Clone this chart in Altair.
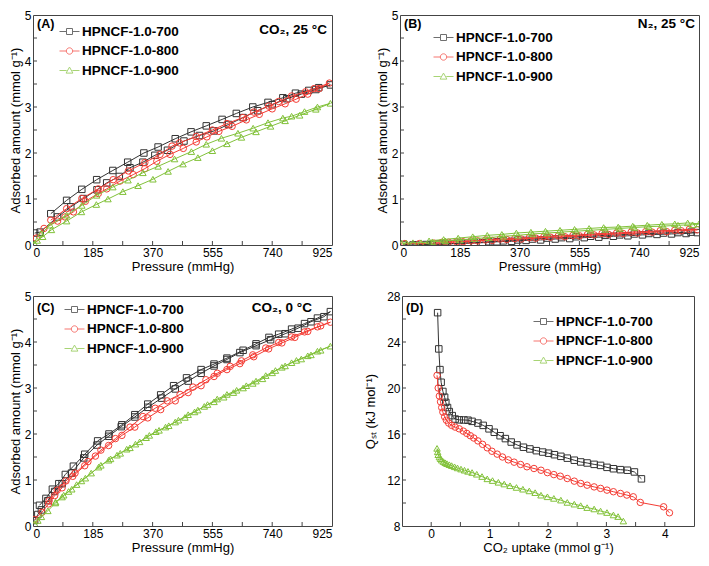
import altair as alt
import pandas as pd

SERIES = ["HPNCF-1.0-700", "HPNCF-1.0-800", "HPNCF-1.0-900"]
COLORS = ["#333333", "#f43c34", "#82c23a"]
SHAPES = ["square", "circle", "triangle-up"]
LEGEND_PATHS = [
    "M-1,0H-0.3M0.3,0H1M-0.3,-0.3H0.3V0.3H-0.3Z",
    "M-1,0H-0.32M0.32,0H1M0.32,0A0.32,0.32 0 1,1 -0.32,0A0.32,0.32 0 1,1 0.32,0Z",
    "M-1,0H-0.28M0.28,0H1M0,-0.34L0.34,0.26H-0.34Z",
]
FRAME = "#444444"
FONT = "Liberation Sans"

# ---------------- Panel A: CO2, 25 C (adsorption then desorption) ----------------
A700_P = [5, 22, 76, 117, 156, 198, 228, 267, 300, 340, 377, 416, 467, 515, 560, 605, 650, 695, 740, 785, 830, 875, 920,
          884, 853, 812, 773, 727, 680, 629, 585, 536, 489, 440, 387, 343, 293, 247, 197, 151, 104, 55]
A700_V = [0.26, 0.28, 0.61, 0.83, 1.01, 1.20, 1.35, 1.49, 1.68, 1.80, 1.95, 2.06, 2.26, 2.38, 2.48, 2.62, 2.77, 2.92, 3.05, 3.18, 3.28, 3.38, 3.48,
          3.42, 3.36, 3.30, 3.20, 3.10, 3.00, 2.86, 2.73, 2.59, 2.46, 2.31, 2.13, 2.00, 1.80, 1.62, 1.42, 1.21, 0.97, 0.68]
A800_P = [10, 34, 76, 99, 125, 162, 202, 228, 269, 310, 346, 383, 424, 465, 505, 538, 575, 616, 660, 700, 740, 780, 814, 850, 885, 917,
          870, 843, 800, 760, 729, 683, 649, 600, 555, 505, 453, 430, 393, 346, 295, 248, 202, 151, 104, 55]
A800_V = [0.15, 0.36, 0.52, 0.61, 0.72, 0.95, 1.12, 1.22, 1.39, 1.53, 1.66, 1.82, 1.97, 2.10, 2.24, 2.35, 2.47, 2.58, 2.72, 2.84, 2.96, 3.07, 3.17, 3.28, 3.40, 3.52,
          3.40, 3.33, 3.24, 3.12, 3.02, 2.89, 2.77, 2.64, 2.50, 2.36, 2.22, 2.15, 1.97, 1.79, 1.61, 1.42, 1.22, 1.01, 0.79, 0.54]
A900_P = [5, 13, 30, 57, 104, 150, 196, 232, 278, 325, 371, 418, 464, 510, 555, 600, 645, 690, 735, 780, 825, 875, 920,
          880, 840, 800, 773, 727, 681, 634, 583, 536, 490, 438, 387, 340, 294, 247, 197, 151, 104, 53, 25]
A900_V = [0.03, 0.10, 0.18, 0.33, 0.52, 0.72, 0.88, 1.00, 1.16, 1.29, 1.43, 1.60, 1.76, 1.90, 2.05, 2.20, 2.34, 2.46, 2.58, 2.70, 2.82, 2.95, 3.08,
          3.00, 2.90, 2.80, 2.76, 2.66, 2.54, 2.43, 2.32, 2.19, 2.03, 1.87, 1.71, 1.57, 1.41, 1.26, 1.08, 0.86, 0.65, 0.43, 0.25]

# ---------------- Panel B: N2, 25 C ----------------
B700_P = [10, 40, 80, 120, 165, 210, 255, 300, 345, 390, 435, 480, 525, 570, 615, 660, 705, 750, 795, 840, 885, 920,
          900, 860, 815, 770, 725, 680, 635, 590, 545, 500, 455, 410, 365, 320, 275, 230, 185, 140, 95, 50]
B700_V = [0.01, 0.00, 0.01, 0.02, 0.03, 0.04, 0.05, 0.07, 0.08, 0.10, 0.11, 0.13, 0.14, 0.16, 0.17, 0.19, 0.20, 0.22, 0.23, 0.24, 0.25, 0.27,
          0.28, 0.27, 0.26, 0.25, 0.24, 0.22, 0.21, 0.19, 0.18, 0.16, 0.15, 0.13, 0.11, 0.09, 0.07, 0.05, 0.04, 0.02, 0.01, 0.00]
B800_P = [15, 60, 105, 150, 195, 240, 285, 330, 375, 420, 465, 510, 555, 600, 645, 690, 735, 780, 825, 870, 920,
          895, 850, 805, 760, 715, 670, 625, 580, 535, 490, 445, 400, 355, 310, 265, 220, 175, 130]
B800_V = [0.03, 0.03, 0.04, 0.06, 0.07, 0.09, 0.10, 0.12, 0.13, 0.15, 0.17, 0.18, 0.20, 0.22, 0.23, 0.25, 0.26, 0.28, 0.29, 0.31, 0.33,
          0.34, 0.32, 0.31, 0.29, 0.28, 0.26, 0.25, 0.23, 0.21, 0.20, 0.18, 0.16, 0.14, 0.13, 0.11, 0.09, 0.07, 0.06]
B900_P = [5, 20, 40, 65, 100, 140, 185, 230, 275, 320, 365, 410, 455, 500, 545, 590, 635, 680, 725, 770, 815, 860, 905, 925,
          890, 850, 810, 765, 720, 675, 630, 585, 540, 495, 450, 405, 360, 315, 270, 225, 180, 135, 90]
B900_V = [0.04, 0.04, 0.05, 0.05, 0.07, 0.09, 0.11, 0.14, 0.16, 0.19, 0.21, 0.24, 0.26, 0.28, 0.30, 0.32, 0.34, 0.36, 0.38, 0.40, 0.41, 0.43, 0.44, 0.46,
          0.48, 0.46, 0.45, 0.43, 0.41, 0.39, 0.38, 0.36, 0.34, 0.32, 0.30, 0.28, 0.26, 0.23, 0.21, 0.18, 0.15, 0.12, 0.09]

# ---------------- Panel C: CO2, 0 C ----------------
C700_P = [5, 15, 26, 46, 67, 90, 119, 157, 198, 234, 273, 315, 355, 398, 440, 480, 520, 560, 600, 640, 690, 735, 780, 820, 860, 900, 920,
          880, 840, 800, 760, 730, 690, 650, 600, 560, 520, 475, 435, 395, 355, 315, 275, 235, 200, 160, 125, 100, 80, 60, 40, 20]
C700_V = [0.12, 0.25, 0.35, 0.55, 0.75, 0.92, 1.15, 1.48, 1.76, 1.95, 2.16, 2.37, 2.58, 2.78, 2.98, 3.15, 3.32, 3.48, 3.62, 3.77, 3.92, 4.05, 4.18, 4.30, 4.44, 4.55, 4.66,
          4.52, 4.40, 4.28, 4.17, 4.10, 3.96, 3.82, 3.65, 3.52, 3.40, 3.22, 3.05, 2.85, 2.65, 2.42, 2.20, 2.00, 1.85, 1.56, 1.30, 1.12, 0.92, 0.80, 0.60, 0.45]
C800_P = [5, 28, 48, 67, 90, 123, 160, 193, 234, 275, 315, 355, 395, 440, 480, 520, 560, 600, 640, 683, 729, 770, 810, 850, 890, 920,
          880, 840, 800, 760, 720, 680, 645, 610, 570, 535, 495, 455, 415, 378, 340, 300, 255, 210, 170, 130, 102, 75, 50]
C800_V = [0.14, 0.30, 0.48, 0.66, 0.83, 1.08, 1.31, 1.52, 1.75, 1.97, 2.15, 2.35, 2.53, 2.72, 2.90, 3.05, 3.25, 3.40, 3.53, 3.68, 3.85, 3.98, 4.10, 4.23, 4.35, 4.43,
          4.33, 4.22, 4.11, 3.99, 3.87, 3.72, 3.59, 3.47, 3.32, 3.18, 3.02, 2.86, 2.72, 2.56, 2.38, 2.15, 1.90, 1.65, 1.40, 1.15, 0.98, 0.78, 0.55]
C900_P = [5, 15, 26, 46, 69, 90, 110, 135, 162, 203, 234, 260, 290, 317, 350, 380, 410, 440, 470, 500, 530, 560, 590, 620, 650, 680, 710, 740, 770, 800, 830, 860, 890, 920,
          880, 850, 815, 780, 750, 720, 690, 660, 630, 600, 570, 540, 510, 480, 450, 420, 390, 360, 330, 300, 270, 240, 210, 180, 150, 120, 95, 70]
C900_V = [0.05, 0.12, 0.20, 0.33, 0.50, 0.63, 0.75, 0.90, 1.04, 1.28, 1.43, 1.54, 1.67, 1.78, 1.92, 2.05, 2.15, 2.26, 2.36, 2.48, 2.60, 2.70, 2.80, 2.90, 3.00, 3.10, 3.20, 3.33, 3.45, 3.55, 3.63, 3.72, 3.82, 3.91,
          3.80, 3.70, 3.60, 3.48, 3.38, 3.27, 3.15, 3.05, 2.95, 2.86, 2.76, 2.64, 2.52, 2.42, 2.30, 2.18, 2.08, 1.97, 1.83, 1.70, 1.58, 1.46, 1.32, 1.15, 0.98, 0.80, 0.67, 0.52]

# ---------------- Panel D: isosteric heat ----------------
D700_U = [0.11, 0.13, 0.15, 0.17, 0.20, 0.23, 0.25, 0.28, 0.31, 0.36, 0.41, 0.48, 0.56, 0.63, 0.70, 0.80, 0.89, 0.99, 1.08, 1.18, 1.27,
          1.37, 1.47, 1.58, 1.69, 1.80, 1.91, 2.01, 2.11, 2.22, 2.33, 2.45, 2.56, 2.67, 2.79, 2.90, 3.01, 3.12, 3.24, 3.36, 3.48, 3.60]
D700_Q = [26.55, 23.4, 21.6, 20.5, 19.7, 19.2, 18.75, 18.3, 17.95, 17.6, 17.3, 17.23, 17.22, 17.2, 17.1, 16.95, 16.75, 16.45, 16.15, 15.85, 15.6,
          15.3, 15.05, 14.85, 14.7, 14.55, 14.43, 14.33, 14.2, 14.06, 13.9, 13.72, 13.57, 13.48, 13.36, 13.27, 13.1, 12.98, 12.9, 12.85, 12.7, 12.1]
D800_U = [0.10, 0.12, 0.14, 0.16, 0.18, 0.20, 0.23, 0.26, 0.30, 0.35, 0.41, 0.48, 0.55, 0.61, 0.67, 0.73, 0.80, 0.88, 0.96, 1.04, 1.13, 1.22,
          1.32, 1.42, 1.53, 1.64, 1.76, 1.88, 1.99, 2.10, 2.21, 2.33, 2.45, 2.56, 2.67, 2.79, 2.90, 3.01, 3.12, 3.24, 3.35, 3.46, 3.58, 3.98, 4.08]
D800_Q = [21.1, 20.0, 19.3, 18.8, 18.3, 17.9, 17.5, 17.2, 16.95, 16.75, 16.6, 16.45, 16.25, 16.05, 15.85, 15.65, 15.4, 15.1, 14.8, 14.5, 14.25, 14.0,
          13.75, 13.55, 13.35, 13.15, 13.0, 12.85, 12.64, 12.47, 12.33, 12.13, 11.9, 11.7, 11.55, 11.4, 11.27, 11.12, 10.98, 10.83, 10.69, 10.54, 10.05, 9.67, 9.15]
D900_U = [0.10, 0.11, 0.12, 0.14, 0.16, 0.18, 0.21, 0.24, 0.27, 0.31, 0.35, 0.40, 0.45, 0.51, 0.57, 0.63, 0.70, 0.78, 0.87, 0.96, 1.05,
          1.15, 1.25, 1.35, 1.46, 1.57, 1.68, 1.78, 1.88, 1.99, 2.10, 2.22, 2.33, 2.45, 2.56, 2.67, 2.79, 2.90, 3.01, 3.12, 3.20, 3.29]
D900_Q = [14.75, 14.45, 14.2, 14.0, 13.85, 13.72, 13.6, 13.5, 13.42, 13.33, 13.25, 13.15, 13.05, 12.95, 12.85, 12.75, 12.65, 12.5, 12.3, 12.1, 11.95,
          11.8, 11.65, 11.5, 11.35, 11.2, 11.05, 10.9, 10.68, 10.54, 10.4, 10.25, 10.05, 9.9, 9.77, 9.6, 9.48, 9.3, 9.17, 8.96, 8.82, 8.43]

# ---------------- axis tick positions ----------------
P_LABELS = [0, 185, 370, 555, 740, 925]
P_TICKS = [92.5, 185, 277.5, 370, 462.5, 555, 647.5, 740, 832.5]
AMT_LABELS = [0, 1, 2, 3, 4, 5]
AMT_TICKS = [0.5, 1, 1.5, 2, 2.5, 3, 3.5, 4, 4.5]
U_LABELS = [0, 1, 2, 3, 4]
U_TICKS = [0, 0.5, 1, 1.5, 2, 2.5, 3, 3.5, 4]
Q_LABELS = [8, 12, 16, 20, 24, 28]
Q_TICKS = [10, 12, 14, 16, 18, 20, 22, 24, 26]

W, H = 299, 230


def panel(series, xdom, ydom, xlabels, xticks, ylabels, yticks, xtitle, ytitle,
          tag, cond, cond_x, cond_y, leg_x, leg_y, tag_y, w=W, h=H, ytitle_pad=2):
    X = alt.X("x:Q", scale=alt.Scale(domain=xdom, nice=False, zero=False),
              axis=alt.Axis(values=xlabels, title=xtitle))
    Y = alt.Y("y:Q", scale=alt.Scale(domain=ydom, nice=False, zero=False),
              axis=alt.Axis(values=ylabels, title=ytitle, titlePadding=ytitle_pad))
    layers = []
    for (xs, ys), color, shape in zip(series, COLORS, SHAPES):
        df = pd.DataFrame({"x": xs, "y": ys, "i": list(range(len(xs)))})
        base = alt.Chart(df)
        layers.append(base.mark_line(color=color, strokeWidth=1, clip=True)
                      .encode(x=X, y=Y, order="i:Q"))
        layers.append(base.mark_point(shape=shape, color=color, filled=False,
                                      size=42, strokeWidth=1, clip=True, opacity=1)
                      .encode(x=X, y=Y))
    layers.append(alt.Chart(pd.DataFrame({"x": xticks})).mark_rule(color=FRAME, strokeWidth=1)
                  .encode(x=X, y=alt.value(h), y2=alt.value(h - 4)))
    layers.append(alt.Chart(pd.DataFrame({"y": yticks})).mark_rule(color=FRAME, strokeWidth=1)
                  .encode(y=Y, x=alt.value(0), x2=alt.value(4)))
    layers.append(alt.Chart(pd.DataFrame({"t": [tag]}))
                  .mark_text(align="left", baseline="middle", fontWeight="bold", fontSize=12.5, font=FONT, color="black")
                  .encode(text="t:N", x=alt.value(4), y=alt.value(tag_y)))
    if cond:
        layers.append(alt.Chart(pd.DataFrame({"t": [cond]}))
                      .mark_text(align="right", baseline="middle", fontWeight="bold", fontSize=13.5, font=FONT, color="black")
                      .encode(text="t:N", x=alt.value(cond_x), y=alt.value(cond_y)))
    leg = alt.Legend(orient="none", legendX=leg_x, legendY=leg_y, title=None,
                     symbolSize=400, symbolStrokeWidth=1, labelFontSize=13.5,
                     labelFontWeight="bold", labelFont=FONT, labelColor="black",
                     labelOffset=2, rowPadding=2.5, padding=0, labelLimit=300)
    layers.append(alt.Chart(pd.DataFrame({"s": SERIES})).transform_filter("false")
                  .mark_point(filled=False, strokeWidth=1)
                  .encode(color=alt.Color("s:N", scale=alt.Scale(domain=SERIES, range=COLORS), legend=leg),
                          shape=alt.Shape("s:N", scale=alt.Scale(domain=SERIES, range=LEGEND_PATHS), legend=leg)))
    return alt.layer(*layers).properties(width=w, height=h)


P_TITLE = "Pressure (mmHg)"
AMT_TITLE = "Adsorbed amount (mmol g\u207b\u00b9)"

pA = panel([(A700_P, A700_V), (A800_P, A800_V), (A900_P, A900_V)], [0, 925], [0, 5],
           P_LABELS, P_TICKS, AMT_LABELS, AMT_TICKS, P_TITLE, AMT_TITLE,
           "(A)", "CO\u2082, 25 \u00b0C", 294, 15, 26, 6, 9)
pB = panel([(B700_P, B700_V), (B800_P, B800_V), (B900_P, B900_V)], [0, 925], [0, 5],
           P_LABELS, P_TICKS, AMT_LABELS, AMT_TICKS, P_TITLE, AMT_TITLE,
           "(B)", "N\u2082, 25 \u00b0C", 295, 9, 33, 12, 9)
pC = panel([(C700_P, C700_V), (C800_P, C800_V), (C900_P, C900_V)], [0, 925], [0, 5],
           P_LABELS, P_TICKS, AMT_LABELS, AMT_TICKS, P_TITLE, AMT_TITLE,
           "(C)", "CO\u2082, 0 \u00b0C", 279, 12, 31, 3, 12)
pD = panel([(D700_U, D700_Q), (D800_U, D800_Q), (D900_U, D900_Q)], [-0.5, 4.5], [8, 28],
           U_LABELS, U_TICKS, Q_LABELS, Q_TICKS, "CO\u2082 uptake (mmol g\u207b\u00b9)", "Q\u209b\u209c (kJ mol\u207b\u00b9)",
           "(D)", None, 0, 0, 131, 15, 12, w=292, ytitle_pad=9)

top = alt.hconcat(pA, pB, spacing=42).resolve_scale(color="independent", shape="independent")
bottom = alt.hconcat(pC, pD, spacing=31).resolve_scale(color="independent", shape="independent")

chart = (alt.vconcat(top, bottom, spacing=15)
         .resolve_scale(color="independent", shape="independent")
         .properties(padding=0)
         .configure(font=FONT)
         .configure_view(stroke=FRAME, strokeWidth=1)
         .configure_axis(grid=False, ticks=False, domain=False, labelFontSize=12, titleFontSize=13,
                         titleFontWeight="normal", labelColor="black", titleColor="black",
                         labelFont=FONT, titleFont=FONT, labelPadding=2, titlePadding=2))

chart.save("out.html", embed_options={"renderer": "svg", "actions": False})
